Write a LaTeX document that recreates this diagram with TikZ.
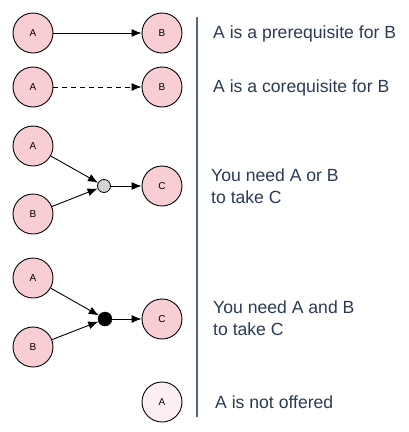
\documentclass[tikz,border=0pt]{standalone}
\usepackage{fontspec}
\setmainfont{Liberation Sans}
\usetikzlibrary{arrows.meta}
\definecolor{nodefill}{HTML}{F8CDD3}
\definecolor{offfill}{HTML}{FCEFF2}
\definecolor{txt}{HTML}{2B3A55}
\definecolor{vline}{HTML}{56657F}
\definecolor{junc}{HTML}{D3D3D3}
\tikzset{
  course/.style={circle, draw=black, line width=0.9pt, fill=nodefill, minimum size=40pt, inner sep=0pt, font=\fontsize{10}{11}\selectfont},
  offered/.style={course, fill=offfill},
  orj/.style={circle, draw=black, line width=0.8pt, fill=junc, minimum size=13pt, inner sep=0pt},
  andj/.style={circle, draw=black, fill=black, minimum size=14pt, inner sep=0pt},
  conn/.style={line width=0.9pt, -{Latex[length=10pt,width=8pt]}},
  desc/.style={anchor=west, text=txt, font=\fontsize{17.6}{22}\selectfont, align=left, inner sep=0pt}
}
\begin{document}
\begin{tikzpicture}[x=1pt,y=-1pt]
\useasboundingbox (0,0) rectangle (409,432);
% row 1
\node[course] (a1) at (33,33) {A};
\node[course] (b1) at (162,33) {B};
\draw[conn] (a1) -- (b1);
% row 2
\node[course] (a2) at (33,87) {A};
\node[course] (b2) at (162,87) {B};
\draw[conn, dashed, dash pattern=on 5pt off 4pt] (a2) -- (b2);
% row 3
\node[course] (a3) at (33,146) {A};
\node[course] (b3) at (33,214) {B};
\node[orj] (j3) at (104,186) {};
\node[course] (c3) at (162,186) {C};
\draw[conn] (a3) -- (j3);
\draw[conn] (b3) -- (j3);
\draw[conn] (j3) -- (c3);
% row 4
\node[course] (a4) at (33,278) {A};
\node[course] (b4) at (33,347) {B};
\node[andj] (j4) at (105,319) {};
\node[course] (c4) at (162,319) {C};
\draw[conn] (a4) -- (j4);
\draw[conn] (b4) -- (j4);
\draw[conn] (j4) -- (c4);
% row 5
\node[offered] (a5) at (162,402) {A};
% divider
\coordinate (vtop) at (197,17);
\coordinate (vbot) at (197,417);
\draw[vline, line width=1.1pt] (vtop) -- (vbot);
% descriptions
\node[desc] (t1) at (213,34) {A is a prerequisite for B};
\node[desc] (t2) at (213,88) {A is a corequisite for B};
\node[desc] (t3) at (211,186) {You need A or B\\to take C};
\node[desc] (t4) at (213,318) {You need A and B\\to take C};
\node[desc] (t5) at (215,402) {A is not offered};
\end{tikzpicture}
\end{document}
